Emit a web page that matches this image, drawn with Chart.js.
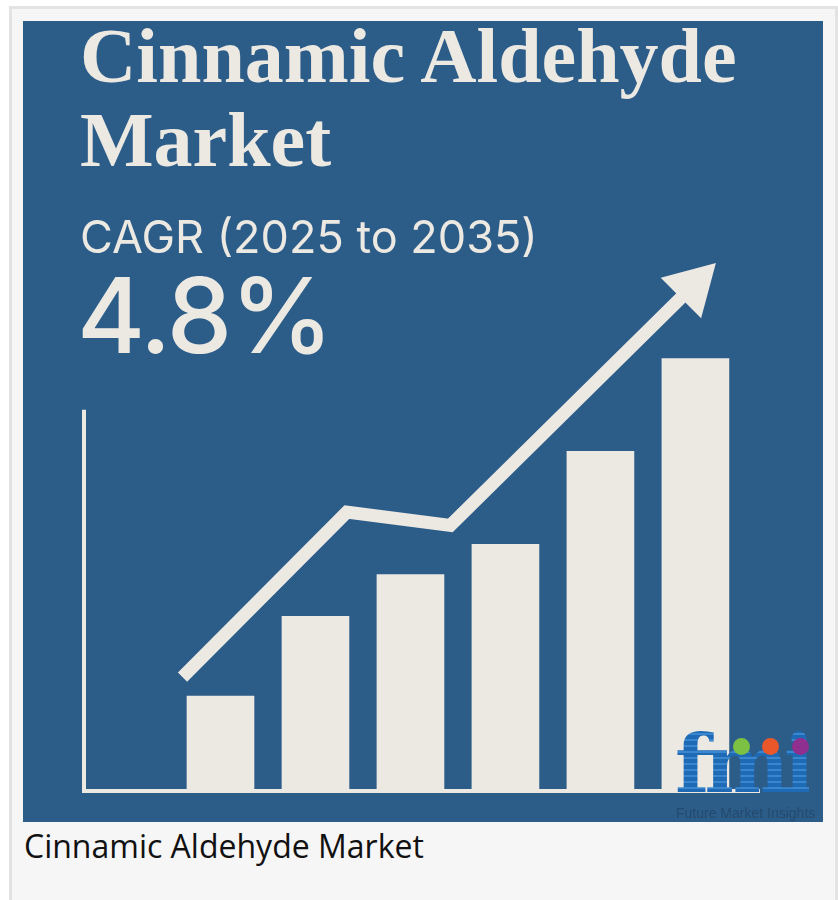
<!DOCTYPE html>
<html>
<head>
<meta charset="utf-8">
<script src="https://cdn.jsdelivr.net/npm/chart.js@4.4.1/dist/chart.umd.min.js"></script>
<style>
  body { margin: 0; background: #fff; width: 838px; height: 900px; overflow: hidden; position: relative; font-family: "Open Sans", sans-serif; }
  .card { position: absolute; left: 9px; top: 6px; width: 823px; height: 900px; background: #f6f6f6; border: 3px solid #e3e3e3; }
  .poster { position: absolute; left: 23px; top: 21px; width: 800px; height: 801px; background: #2c5d89; overflow: hidden; }
  .poster canvas { position: absolute; left: 0; top: 0; }
  .title { position: absolute; left: 57px; color: #ece8e2; font-family: "Liberation Serif", serif; font-weight: bold; font-size: 78px; line-height: 1; white-space: nowrap; }
  .cagr { position: absolute; left: 57px; top: 188px; color: #ece8e2; font-family: Inter, Roboto, sans-serif; font-size: 45px; white-space: nowrap; }
  .pct { position: absolute; left: 54px; top: 231px; color: #ece8e2; font-family: Inter, Roboto, sans-serif; font-weight: 500; font-size: 104px; letter-spacing: -2px; white-space: nowrap; }
  .logo { position: absolute; left: 650px; top: 708px; width: 150px; height: 93px; }
  .logo .fmi { position: absolute; left: 2px; top: -12px; font-family: "DejaVu Serif", serif; font-weight: bold; font-size: 80px; letter-spacing: -5px;
    background: repeating-linear-gradient(#1f6ab5 0 4px, #3a86cf 4px 6px); -webkit-background-clip: text; background-clip: text; color: transparent; }
  .logo .dot { position: absolute; top: 9px; width: 17px; height: 17px; border-radius: 50%; }
  .logo .txt { position: absolute; left: 3px; top: 76px; font-family: "Liberation Sans Narrow", "Liberation Sans", sans-serif; font-size: 14px; color: #234a6e; white-space: nowrap; }
  .caption { position: absolute; left: 24px; top: 824px; font-size: 32px; color: #111; }
</style>
</head>
<body>
<div class="card"></div>
<div class="poster">
  <canvas id="chart" width="800" height="801"></canvas>
  <div class="title" style="top:-4px">Cinnamic Aldehyde</div>
  <div class="title" style="top:80px">Market</div>
  <div class="cagr">CAGR (2025 to 2035)</div>
  <div class="pct">4.8%</div>
  <div class="logo">
    <div class="fmi">fmi</div>
    <div class="dot" style="left:60px;background:#7cc143"></div>
    <div class="dot" style="left:89px;background:#e9572b"></div>
    <div class="dot" style="left:119px;background:#8f2f90"></div>
    <div class="txt">Future Market Insights</div>
  </div>
</div>
<div class="caption">Cinnamic Aldehyde Market</div>
<script>
// bar positions (index) and heights (top of the drawn axis = 100)
const barX = [1, 2, 3, 4, 5, 6];
const barValues = [24.5, 45.5, 56.5, 64.5, 89, 113.5];
// trend arrow points (last one carries the arrow head)
const trendX = [0.6, 2.33, 3.42, 5.97];
const trendY = [29.5, 73, 69.5, 132.5];
const axisTop = 100;

const cream = '#ece8e2';

// L-shaped axis: left line stops at axisTop, the arrow goes above it
const axisLines = {
  id: 'axisLines',
  beforeDatasetsDraw(chart) {
    const { ctx, scales: { x, y } } = chart;
    const y0 = y.getPixelForValue(0) + 2;
    ctx.save();
    ctx.strokeStyle = cream;
    ctx.lineWidth = 4;
    ctx.beginPath();
    ctx.moveTo(x.left, y.getPixelForValue(axisTop));
    ctx.lineTo(x.left, y0);
    ctx.lineTo(x.right, y0);
    ctx.stroke();
    ctx.restore();
  }
};

new Chart(document.getElementById('chart'), {
  data: {
    datasets: [
      {
        type: 'line',
        data: trendX.map((x, i) => ({ x: x, y: trendY[i] })),
        borderColor: cream,
        backgroundColor: cream,
        borderWidth: 13,
        borderCapStyle: 'butt',
        borderJoinStyle: 'miter',
        tension: 0,
        clip: false,
        pointRadius: trendX.map((x, i) => i === trendX.length - 1 ? 33 : 0),
        pointStyle: 'triangle',
        pointRotation: 45,
        pointBorderWidth: 0,
        order: 0
      },
      {
        type: 'bar',
        data: barX.map((x, i) => ({ x: x, y: barValues[i] })),
        backgroundColor: cream,
        barThickness: 67,
        clip: false,
        order: 1
      }
    ]
  },
  options: {
    responsive: false,
    animation: false,
    layout: { padding: { left: 61, top: 218, right: 63, bottom: 31 } },
    plugins: { legend: { display: false }, tooltip: { enabled: false } },
    scales: {
      x: { type: 'linear', min: -0.437, max: 6.68, offset: false, display: false },
      y: { min: 0, max: 145, display: false }
    }
  },
  plugins: [axisLines]
});
</script>
</body>
</html>
